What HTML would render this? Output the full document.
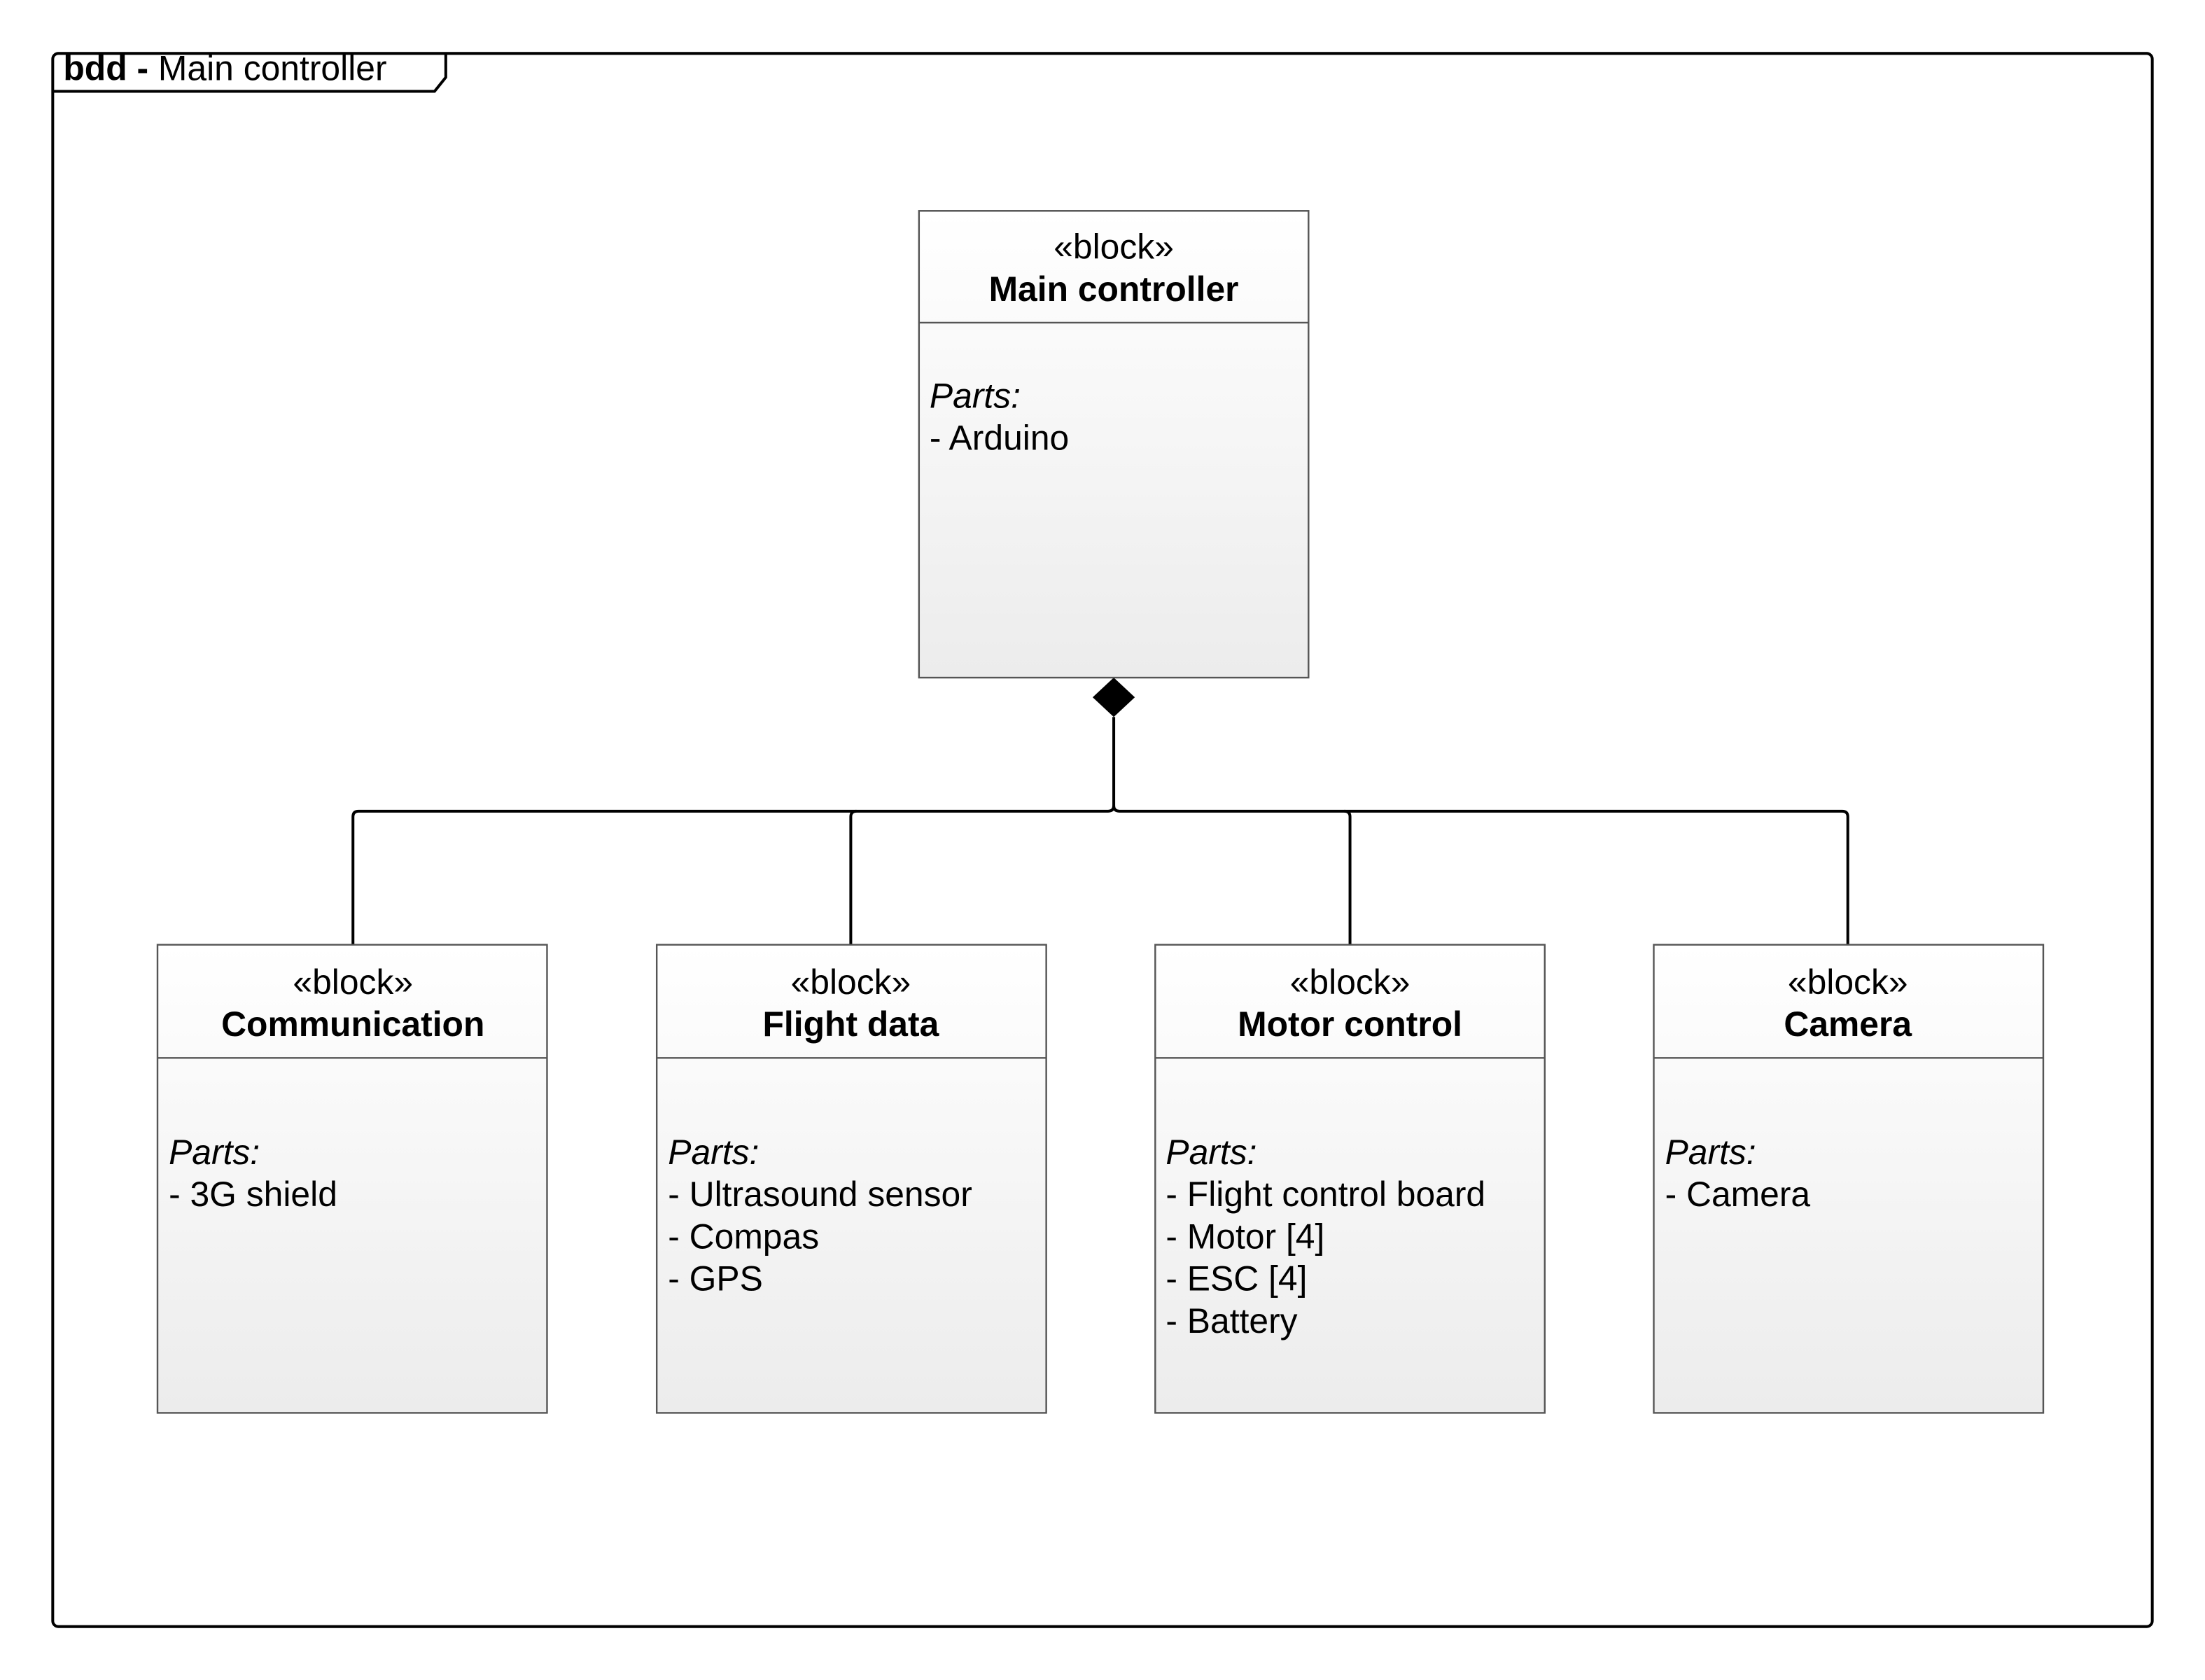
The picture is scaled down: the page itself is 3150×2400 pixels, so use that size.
<!DOCTYPE html>
<html><head><meta charset="utf-8"><style>
html,body{margin:0;padding:0;background:#fff;}
svg{display:block;}
text{font-family:"Liberation Sans",sans-serif;fill:#000;}
</style></head><body>
<svg width="3150" height="2400" viewBox="0 0 1568 1195" preserveAspectRatio="none" xmlns="http://www.w3.org/2000/svg">
<defs>
<linearGradient id="g" x1="0" y1="0" x2="0" y2="1">
<stop offset="0" stop-color="#ffffff"/><stop offset="1" stop-color="#ececec"/>
</linearGradient>
</defs>
<rect x="37.5" y="38" width="1493" height="1119" rx="4" fill="none" stroke="#000" stroke-width="2"/>
<path d="M37.5 65 L309 65 L317 55 L317 38" fill="none" stroke="#000" stroke-width="2"/>
<text x="45" y="57" font-size="24.8"><tspan font-weight="bold">bdd - </tspan>Main controller</text>

<g fill="none" stroke="#000" stroke-width="2">
<path d="M792 510 L792 573 Q792 577 788 577 L255 577 Q251 577 251 581 L251 672"/>
<path d="M792 573 Q792 577 796 577 L1310 577 Q1314 577 1314 581 L1314 672"/>
<path d="M605 672 L605 581 Q605 577 609 577"/>
<path d="M960 672 L960 581 Q960 577 956 577"/>
</g>
<polygon points="792,482 807,496 792,510 777,496" fill="#000"/>

<g stroke="#555" stroke-width="1.2">
<rect x="653.5" y="150" width="277" height="332" fill="url(#g)"/>
<line x1="653.5" y1="229.5" x2="930.5" y2="229.5"/>
</g>
<text x="792" y="184" font-size="24.8" text-anchor="middle">«block»</text>
<text x="792" y="214" font-size="24.8" font-weight="bold" text-anchor="middle">Main controller</text>
<text x="661" y="290" font-size="24.8" font-style="italic">Parts:</text>
<text x="661" y="320" font-size="24.8">- Arduino</text>

<g stroke="#555" stroke-width="1.2">
<rect x="112" y="672" width="277" height="333" fill="url(#g)"/>
<line x1="112" y1="752.5" x2="389" y2="752.5"/>
<rect x="467" y="672" width="277" height="333" fill="url(#g)"/>
<line x1="467" y1="752.5" x2="744" y2="752.5"/>
<rect x="821.5" y="672" width="277" height="333" fill="url(#g)"/>
<line x1="821.5" y1="752.5" x2="1098.5" y2="752.5"/>
<rect x="1176" y="672" width="277" height="333" fill="url(#g)"/>
<line x1="1176" y1="752.5" x2="1453" y2="752.5"/>
</g>
<g font-size="24.8">
<text x="251" y="707" text-anchor="middle">«block»</text>
<text x="251" y="737" text-anchor="middle" font-weight="bold">Communication</text>
<text x="120" y="828" font-style="italic">Parts:</text>
<text x="120" y="858">- 3G shield</text>

<text x="605" y="707" text-anchor="middle">«block»</text>
<text x="605" y="737" text-anchor="middle" font-weight="bold">Flight data</text>
<text x="475" y="828" font-style="italic">Parts:</text>
<text x="475" y="858">- Ultrasound sensor</text>
<text x="475" y="888">- Compas</text>
<text x="475" y="918">- GPS</text>

<text x="960" y="707" text-anchor="middle">«block»</text>
<text x="960" y="737" text-anchor="middle" font-weight="bold">Motor control</text>
<text x="829" y="828" font-style="italic">Parts:</text>
<text x="829" y="858">- Flight control board</text>
<text x="829" y="888">- Motor [4]</text>
<text x="829" y="918">- ESC [4]</text>
<text x="829" y="948">- Battery</text>

<text x="1314" y="707" text-anchor="middle">«block»</text>
<text x="1314" y="737" text-anchor="middle" font-weight="bold">Camera</text>
<text x="1184" y="828" font-style="italic">Parts:</text>
<text x="1184" y="858">- Camera</text>
</g>
</svg>
</body></html>
